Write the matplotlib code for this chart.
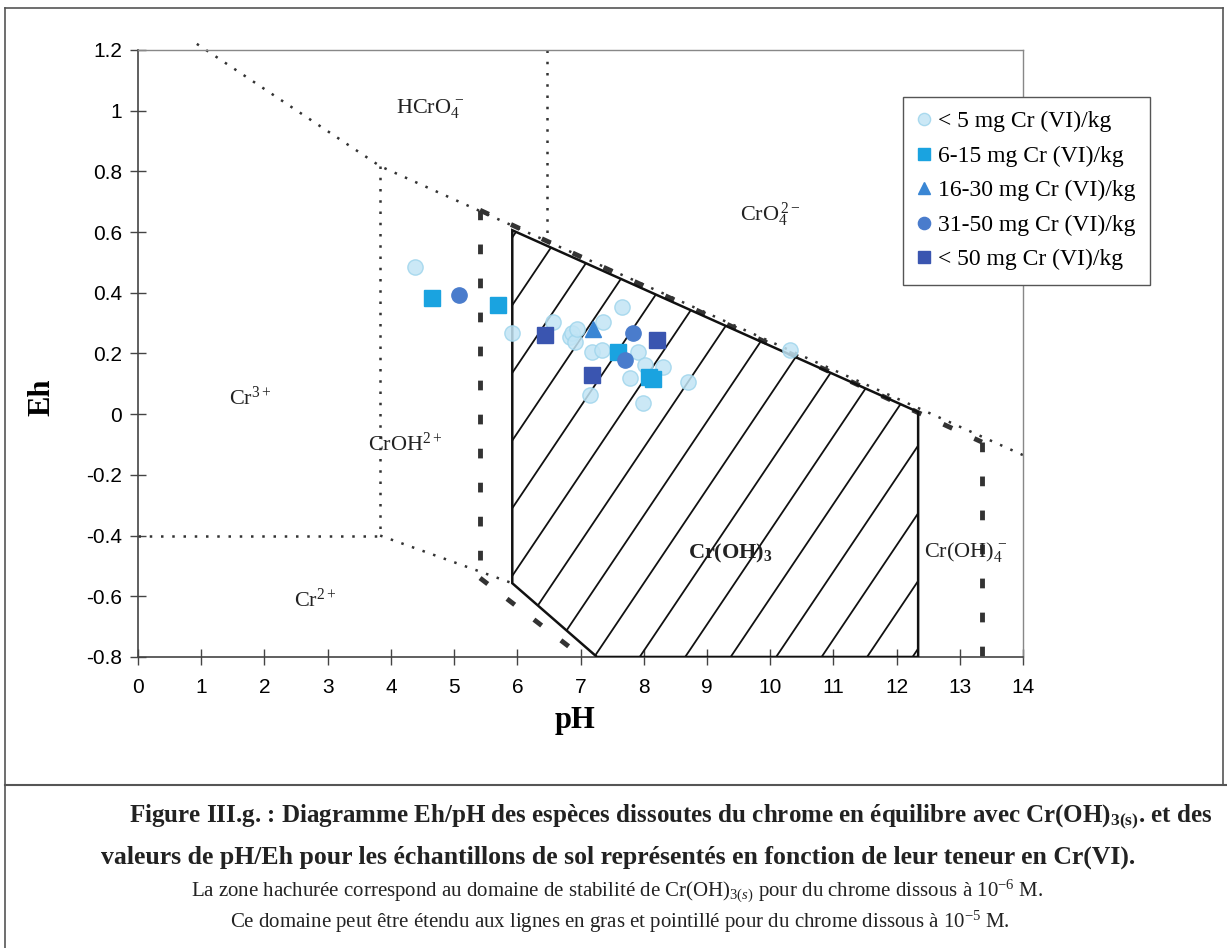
import numpy as np
import matplotlib
matplotlib.use("Agg")
import matplotlib.pyplot as plt
from matplotlib.patches import Polygon
from matplotlib.lines import Line2D

plt.rcParams["font.family"] = ["Liberation Serif", "DejaVu Serif"]
plt.rcParams["mathtext.fontset"] = "custom"
plt.rcParams["mathtext.rm"] = "Liberation Serif"
plt.rcParams["mathtext.it"] = "Liberation Serif:italic"
plt.rcParams["mathtext.bf"] = "Liberation Serif:bold"

# --- sample points (pH, Eh) by Cr(VI) class ---
lt5_ph = [4.38, 5.92, 6.57, 6.84, 6.87, 6.91, 6.95, 7.36, 7.66, 7.18, 7.34,
          7.91, 7.78, 8.02, 8.31, 8.70, 7.15, 7.99, 10.32]
lt5_eh = [0.484, 0.267, 0.303, 0.254, 0.267, 0.237, 0.28, 0.303, 0.353, 0.204,
          0.211, 0.204, 0.119, 0.161, 0.155, 0.105, 0.063, 0.036, 0.21]
c6_15_ph = [4.65, 5.70, 7.59, 8.08, 8.15]
c6_15_eh = [0.382, 0.359, 0.204, 0.122, 0.115]
c16_30_ph = [7.20]
c16_30_eh = [0.28]
c31_50_ph = [5.07, 7.83, 7.71]
c31_50_eh = [0.392, 0.267, 0.178]
c50_ph = [6.44, 8.21, 7.18]
c50_eh = [0.26, 0.246, 0.128]

# --- diagram boundaries ---
dot_top_ph = [0.93, 3.83, 14.0]
dot_top_eh = [1.22, 0.817, -0.135]
dot_v1_ph = [3.83, 3.83]
dot_v1_eh = [0.817, -0.40]
dot_h_ph = [0.0, 3.83]
dot_h_eh = [-0.40, -0.40]
dot_diag_ph = [3.83, 5.92]
dot_diag_eh = [-0.40, -0.557]
dot_v2_ph = [6.47, 6.47]
dot_v2_eh = [1.2, 0.570]

dash_v1_ph = [5.41, 5.41]
dash_v1_eh = [0.672, -0.54]
dash_top_ph = [5.41, 13.35]
dash_top_eh = [0.672, -0.092]
dash_v2_ph = [13.35, 13.35]
dash_v2_eh = [-0.092, -0.8]
dash_diag_ph = [5.41, 7.03]
dash_diag_eh = [-0.54, -0.8]

stab_ph = [5.92, 12.34, 12.34, 7.26, 5.92]
stab_eh = [0.606, 0.007, -0.8, -0.8, -0.557]

labels = ["HCrO$_4^{\\,-}$", "CrO$_4^{\\,2-}$", "Cr$^{3+}$", "CrOH$^{2+}$",
          "Cr(OH)$_4^{\\,-}$", "Cr$^{2+}$"]
label_ph = [4.62, 10.0, 1.77, 4.22, 13.09, 2.80]
label_eh = [1.008, 0.656, 0.053, -0.10, -0.455, -0.613]

yticks = [-0.8, -0.6, -0.4, -0.2, 0, 0.2, 0.4, 0.6, 0.8, 1, 1.2]
ytick_labels = ["-0.8", "-0.6", "-0.4", "-0.2", "0", "0.2", "0.4", "0.6", "0.8", "1", "1.2"]

fig = plt.figure(figsize=(12.27, 9.48), dpi=100)
ax = fig.add_axes([0.1125, 0.307, 0.7213, 0.6403])

dk = "#333333"
dotted = (0, (1, 3.5))
thick = (0, (2, 5))
for xs, ys in [(dot_top_ph, dot_top_eh), (dot_v1_ph, dot_v1_eh), (dot_h_ph, dot_h_eh),
               (dot_diag_ph, dot_diag_eh), (dot_v2_ph, dot_v2_eh)]:
    ax.plot(xs, ys, color=dk, lw=1.8, linestyle=dotted, clip_on=False, zorder=2)
for xs, ys in [(dash_v1_ph, dash_v1_eh), (dash_top_ph, dash_top_eh),
               (dash_v2_ph, dash_v2_eh), (dash_diag_ph, dash_diag_eh)]:
    ax.plot(xs, ys, color=dk, lw=3.5, linestyle=thick, solid_capstyle="butt",
            dash_capstyle="butt", zorder=2)

poly = Polygon(np.column_stack([stab_ph, stab_eh]), closed=True, fill=False,
               edgecolor="#111111", lw=1.8, zorder=3)
ax.add_patch(poly)
hx = np.array([5.0, 13.0])
for c in -1.476 + 0.223 * np.arange(-14, 8):
    ln, = ax.plot(hx, 0.31 * hx + c, color="#111111", lw=1.3, zorder=2)
    ln.set_clip_path(poly)

for t, x, y in zip(labels, label_ph, label_eh):
    ax.text(x, y, t, fontsize=16, ha="center", va="center", color="#222222")
ax.text(9.37, -0.458, "Cr(OH)$_\\mathbf{3}$", fontsize=16, fontweight="bold",
        ha="center", va="center", color="#222222")

ms = 11
ax.plot(lt5_ph, lt5_eh, "o", ms=ms, color="#c2e5f5", mec="#9fd5ec", mew=1,
        alpha=0.85, label="< 5 mg Cr (VI)/kg", zorder=4)
ax.plot(c6_15_ph, c6_15_eh, "s", ms=ms, color="#1aa3e0", mec="#1aa3e0",
        label="6-15 mg Cr (VI)/kg", zorder=5)
ax.plot(c16_30_ph, c16_30_eh, "^", ms=ms, color="#3a86d4", mec="#3a86d4",
        label="16-30 mg Cr (VI)/kg", zorder=5)
ax.plot(c31_50_ph, c31_50_eh, "o", ms=ms, color="#4a7ccc", mec="#4a7ccc",
        label="31-50 mg Cr (VI)/kg", zorder=5)
ax.plot(c50_ph, c50_eh, "s", ms=ms, color="#3a55b0", mec="#3a55b0",
        label="< 50 mg Cr (VI)/kg", zorder=5)

ax.set_xlim(0, 14)
ax.set_ylim(-0.8, 1.2)
ax.set_xticks(range(0, 15))
ax.set_yticks(yticks)
ax.set_yticklabels(ytick_labels)
for lab in ax.get_xticklabels() + ax.get_yticklabels():
    lab.set_family("Liberation Sans")
    lab.set_fontsize(15)
ax.tick_params(direction="inout", length=11, width=1, color="#444444")
ax.tick_params(axis="x", pad=10)
ax.tick_params(axis="y", pad=6)
for s in ["left", "bottom"]:
    ax.spines[s].set_color("#444444")
    ax.spines[s].set_linewidth(1.2)
for s in ["top", "right"]:
    ax.spines[s].set_color("#888888")
    ax.spines[s].set_linewidth(1.0)

ax.set_xlabel("pH", fontsize=22, fontweight="bold")
ax.set_ylabel("Eh", fontsize=22, fontweight="bold")
ax.xaxis.set_label_coords(0.494, -0.080)
ax.yaxis.set_label_coords(-0.092, 0.428)

leg = ax.legend(loc="upper left", bbox_to_anchor=(0.736, 0.898),
                bbox_transform=fig.transFigure, fontsize=17, frameon=True,
                fancybox=False, edgecolor="#555555", framealpha=1,
                handlelength=0.6, handletextpad=0.3, labelspacing=0.55,
                borderpad=0.6, borderaxespad=0, markerscale=0.8)
leg.get_frame().set_linewidth(1.0)

# outer frame and caption
fig.add_artist(Line2D([0.004, 0.004], [0.0, 0.9916], color="#555555", lw=1.2))
fig.add_artist(Line2D([0.004, 0.997], [0.9916, 0.9916], color="#555555", lw=1.2))
fig.add_artist(Line2D([0.997, 0.997], [0.172, 0.9916], color="#555555", lw=1.2))
fig.add_artist(Line2D([0.004, 1.0], [0.172, 0.172], color="#555555", lw=1.5))

fig.text(671 / 1227, 1 - 817 / 948,
         "Figure III.g. : Diagramme Eh/pH des espèces dissoutes du chrome en équilibre "
         "avec Cr(OH)$_{\\mathbf{3(s)}}$. et des",
         fontsize=18, fontweight="bold", ha="center", va="center", color="#222222")
fig.text(618 / 1227, 1 - 857 / 948,
         "valeurs de pH/Eh pour les échantillons de sol représentés en fonction de "
         "leur teneur en Cr(VI).",
         fontsize=18.5, fontweight="bold", ha="center", va="center", color="#222222")
fig.text(617 / 1227, 1 - 891 / 948,
         "La zone hachurée correspond au domaine de stabilité de Cr(OH)$_{3(s)}$ "
         "pour du chrome dissous à 10$^{-6}$ M.",
         fontsize=15, ha="center", va="center", color="#222222")
fig.text(620 / 1227, 1 - 922 / 948,
         "Ce domaine peut être étendu aux lignes en gras et pointillé pour du chrome "
         "dissous à 10$^{-5}$ M.",
         fontsize=15, ha="center", va="center", color="#222222")

fig.savefig("out.png", dpi=100)
